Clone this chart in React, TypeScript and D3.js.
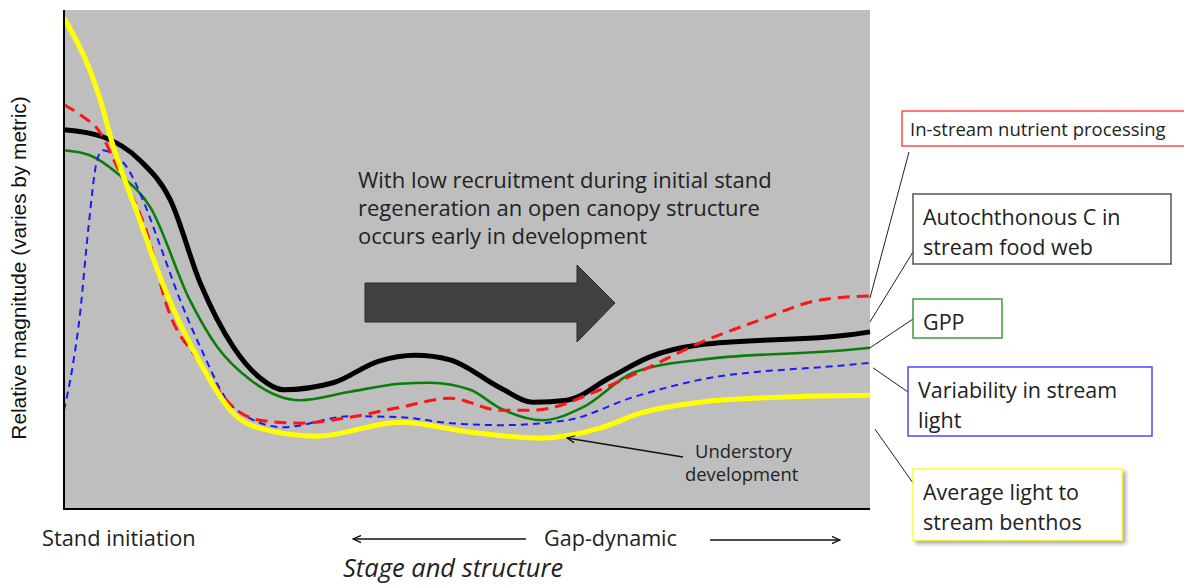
import React from 'react';
import * as d3 from 'd3';

// stand development stage (0 = stand initiation, 100 = late gap-dynamic)
const nutrientX = [0, 2, 4.5, 6.6, 10.3, 12.8, 16.9, 21, 24.3, 29.3, 35.5, 41.7, 47.9, 54.1, 58.2, 66.5, 72.7, 78.9, 86.4, 93.8, 100];
const nutrientY = [81, 79, 75.4, 68.5, 55.3, 40.5, 29.3, 20.4, 17.8, 17.2, 18.4, 20.4, 22.2, 19.8, 19.8, 23.9, 28.5, 33.3, 37.9, 41.9, 42.7];

const autoCX = [0, 4.8, 9.4, 13.2, 16.9, 21, 24.3, 27.2, 33.4, 39, 43.6, 47.9, 54.1, 58.2, 62.4, 67.7, 72.7, 78.9, 97.5, 100];
const autoCY = [76, 74.6, 69.9, 61.9, 45.3, 32.5, 26.3, 23.9, 25.3, 29.6, 30.8, 29.9, 24.3, 21.4, 21.8, 26.3, 30.5, 32.9, 34.9, 35.5];

const gppX = [0, 3.2, 6.6, 10.7, 15.6, 19, 23.1, 29.3, 35.5, 41.7, 45.4, 50.4, 54.1, 59.4, 64.4, 70.6, 78.9, 97.5, 100];
const gppY = [71.9, 70.9, 67.3, 60.5, 41.9, 32.5, 25.9, 21.8, 23.5, 25.1, 25.3, 23.9, 20.2, 17.8, 20.4, 27.3, 29.9, 31.9, 32.3];

const varLightX = [0, 1, 2, 3, 4.1, 4.8, 6.3, 7.8, 9.8, 11.9, 14.4, 16.9, 21, 27.2, 35.5, 41.7, 47.9, 54.1, 62.4, 70.6, 78.9, 97.5, 100];
const varLightY = [19.8, 27.9, 39.3, 55.9, 69.9, 71.9, 70.9, 68.5, 61.9, 52.9, 41.9, 32.5, 20.4, 16.4, 18.6, 18.4, 17.2, 16.8, 17.8, 22.4, 25.9, 28.9, 29.3];

const avgLightX = [0, 4.5, 6, 9.4, 12.3, 16.9, 21, 25.2, 31.4, 41.7, 50.4, 59, 66.5, 71.5, 78.9, 88.8, 100];
const avgLightY = [98.4, 82, 73.3, 57.9, 44.9, 29.3, 19.2, 15.8, 14.6, 17.4, 15.4, 14.2, 16.2, 19.2, 21.4, 22.4, 22.8];

const annotationLines = [
  'With low recruitment during initial stand',
  'regeneration an open canopy structure',
  'occurs early in development',
];

const W = 1184;
const H = 586;
const plot = { left: 64, right: 870, top: 10, bottom: 509 };
const calibri = "'Open Sans', Lato, sans-serif";

type Series = {
  name: string;
  label: string[];
  xs: number[];
  ys: number[];
  color: string;
  width: number;
  dash?: string;
  box: { x: number; y: number; w: number; h: number; stroke: string; size: number; shadow?: boolean };
  leaderStart: [number, number];
  leaderEnd: [number, number];
};

const series: Series[] = [
  {
    name: 'gpp', label: ['GPP'], xs: gppX, ys: gppY, color: '#0b7d0b', width: 2.6,
    box: { x: 913, y: 299, w: 89, h: 39, stroke: '#3c9c3c', size: 21.5 },
    leaderStart: [0, 0], leaderEnd: [913, 319],
  },
  {
    name: 'autoC', label: ['Autochthonous C in', 'stream food web'], xs: autoCX, ys: autoCY, color: '#000', width: 5,
    box: { x: 913, y: 194, w: 258, h: 70, stroke: '#555', size: 21.5 },
    leaderStart: [0, -10], leaderEnd: [913, 252],
  },
  {
    name: 'varLight', label: ['Variability in stream', 'light'], xs: varLightX, ys: varLightY, color: '#1a1aff', width: 2, dash: '7,5',
    box: { x: 908, y: 367, w: 244, h: 69, stroke: '#4848ff', size: 21.5 },
    leaderStart: [3, 5], leaderEnd: [908, 392],
  },
  {
    name: 'nutrient', label: ['In-stream nutrient processing'], xs: nutrientX, ys: nutrientY, color: '#ff1414', width: 3, dash: '12,7',
    box: { x: 902, y: 111, w: 300, h: 35, stroke: '#ff4a4a', size: 18.5 },
    leaderStart: [0, 2], leaderEnd: [909, 152],
  },
  {
    name: 'avgLight', label: ['Average light to', 'stream benthos'], xs: avgLightX, ys: avgLightY, color: '#ffff00', width: 5,
    box: { x: 913, y: 469, w: 209, h: 71, stroke: '#ffff33', size: 21.5, shadow: true },
    leaderStart: [5, 34], leaderEnd: [913, 483],
  },
];

export default function App() {
  const x = d3.scaleLinear().domain([0, 100]).range([plot.left, plot.right]);
  const y = d3.scaleLinear().domain([0, 100]).range([plot.bottom, plot.top]);
  const line = d3
    .line<[number, number]>()
    .x(d => x(d[0]))
    .y(d => y(d[1]))
    .curve(d3.curveMonotoneX);

  return (
    <svg width={W} height={H} style={{ position: 'absolute', left: 0, top: 0 }}>
      <defs>
        <marker id="ah" viewBox="0 0 10 10" refX="9" refY="5" markerWidth="9" markerHeight="9" orient="auto-start-reverse" markerUnits="userSpaceOnUse">
          <path d="M0,1 L9,5 L0,9" fill="none" stroke="#111" strokeWidth={1.4} />
        </marker>
        <filter id="sh" x="-10%" y="-10%" width="130%" height="130%">
          <feDropShadow dx="3" dy="3" stdDeviation="2" floodColor="#000" floodOpacity="0.35" />
        </filter>
      </defs>
      <rect width={W} height={H} fill="#fff" />
      <rect x={plot.left} y={plot.top} width={plot.right - plot.left} height={plot.bottom - plot.top} fill="#bebebe" />

      {/* big arrow */}
      <path d="M365,283 L577,283 L577,265 L615,303 L577,342 L577,322 L365,322 Z" fill="#414141" stroke="#2a2a2a" strokeWidth={1} />
      {annotationLines.map((t, i) => (
        <text key={i} x={358} y={188 + i * 28} fontFamily={calibri} fontSize={22} fill="#222">{t}</text>
      ))}

      {series.map(s => (
        <path
          key={s.name}
          d={line(s.xs.map((v, i) => [v, s.ys[i]] as [number, number])) || ''}
          fill="none"
          stroke={s.color}
          strokeWidth={s.width}
          strokeDasharray={s.dash}
          strokeLinecap="butt"
        />
      ))}

      {/* axes */}
      <line x1={plot.left} x2={plot.left} y1={plot.top} y2={plot.bottom} stroke="#000" strokeWidth={2} />
      <line x1={plot.left - 1} x2={plot.right} y1={plot.bottom} y2={plot.bottom} stroke="#000" strokeWidth={2} />

      {/* understory note */}
      <line x1={683} y1={457} x2={567} y2={438} stroke="#111" strokeWidth={1.4} markerEnd="url(#ah)" />
      <text x={695} y={458} fontFamily={calibri} fontSize={18.4} fill="#222">Understory</text>
      <text x={685} y={481} fontFamily={calibri} fontSize={18.4} fill="#222">development</text>

      {/* legend boxes with leaders */}
      {series.map(s => {
        const last = s.xs.length - 1;
        const sx = x(s.xs[last]) + s.leaderStart[0];
        const sy = y(s.ys[last]) + s.leaderStart[1];
        const small = s.box.size < 20;
        return (
          <g key={s.name + '-lab'}>
            <line x1={sx} y1={sy} x2={s.leaderEnd[0]} y2={s.leaderEnd[1]} stroke="#222" strokeWidth={1} />
            <rect x={s.box.x} y={s.box.y} width={s.box.w} height={s.box.h} fill="#fff" stroke={s.box.stroke} strokeWidth={1.5}
              filter={s.box.shadow ? 'url(#sh)' : undefined} />
            {s.label.map((t, i) => (
              <text key={i} x={s.box.x + (small ? 8 : 10)} y={s.box.y + (small ? 25 : 31) + i * 30}
                fontFamily={calibri} fontSize={s.box.size} fill="#222">{t}</text>
            ))}
          </g>
        );
      })}

      {/* y axis title */}
      <text transform="translate(26,268) rotate(-90)" textAnchor="middle" fontFamily="'Liberation Sans', Arial, sans-serif" fontSize={20.8} fill="#111">
        Relative magnitude (varies by metric)
      </text>

      {/* x axis labels */}
      <text x={42} y={546} fontFamily={calibri} fontSize={21.8} fill="#222">Stand initiation</text>
      <text x={544} y={546} fontFamily={calibri} fontSize={21.6} fill="#222">Gap-dynamic</text>
      <line x1={526} y1={539} x2={353} y2={539} stroke="#111" strokeWidth={1.4} markerEnd="url(#ah)" />
      <line x1={710} y1={540} x2={840} y2={540} stroke="#111" strokeWidth={1.4} markerEnd="url(#ah)" />
      <text x={343} y={577} fontFamily={calibri} fontSize={25.5} fontStyle="italic" fill="#222">Stage and structure</text>
    </svg>
  );
}
